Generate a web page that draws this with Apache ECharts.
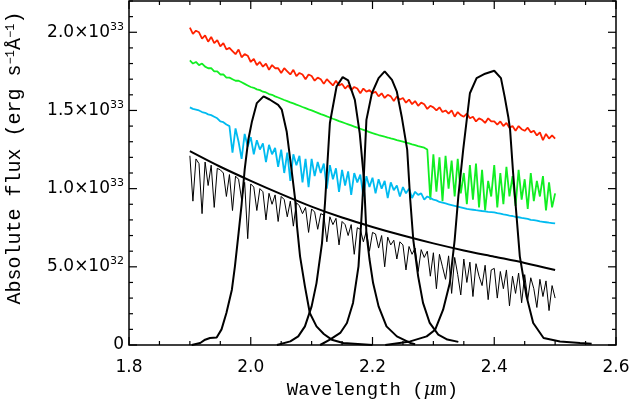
<!DOCTYPE html>
<html>
<head>
<meta charset="utf-8">
<script src="https://cdn.jsdelivr.net/npm/echarts@6/dist/echarts.min.js"></script>
<style>
html,body{margin:0;padding:0;background:#fff;}
#chart{width:631px;height:405px;}
</style>
</head>
<body>
<div id="chart"></div>
<script>
/************************************ 数据 (flux 单位 1e33 erg/s/A) ************************************/
// 光谱采样网格 1.9 - 2.5 um, 步长 0.005
var wave = [];
for (var i = 0; i <= 120; i++) {
	wave.push(+(1.9 + i * 0.005).toFixed(3));
}
var redFlux = [
	2.03,1.99,2.01,2.00,1.96,1.98,1.94,1.97,1.93,1.95,
	1.91,1.93,1.89,1.90,1.88,1.86,1.89,1.84,1.86,1.85,
	1.81,1.83,1.79,1.81,1.78,1.80,1.76,1.79,1.77,1.77,
	1.74,1.77,1.75,1.73,1.76,1.72,1.74,1.73,1.70,1.73,
	1.72,1.69,1.71,1.70,1.67,1.70,1.68,1.66,1.69,1.66,
	1.67,1.64,1.66,1.63,1.65,1.64,1.61,1.64,1.62,1.63,
	1.61,1.62,1.59,1.61,1.58,1.60,1.59,1.56,1.59,1.57,
	1.58,1.55,1.57,1.54,1.56,1.53,1.55,1.54,1.51,1.53,
	1.52,1.50,1.52,1.49,1.50,1.48,1.50,1.46,1.49,1.47,
	1.46,1.48,1.45,1.46,1.43,1.45,1.44,1.42,1.45,1.43,
	1.43,1.41,1.43,1.40,1.42,1.39,1.40,1.37,1.40,1.38,
	1.37,1.39,1.36,1.37,1.34,1.36,1.31,1.35,1.32,1.34,
	1.32
];
var greenFlux = [
	1.82,1.80,1.81,1.79,1.80,1.78,1.77,1.77,1.75,1.75,
	1.73,1.73,1.71,1.71,1.70,1.69,1.69,1.68,1.67,1.66,
	1.65,1.645,1.635,1.63,1.62,1.615,1.605,1.60,1.59,1.583,
	1.575,1.567,1.56,1.552,1.545,1.537,1.53,1.522,1.515,1.507,
	1.50,1.492,1.485,1.477,1.47,1.462,1.455,1.447,1.44,1.432,
	1.425,1.418,1.411,1.404,1.397,1.39,1.383,1.376,1.369,1.362,
	1.355,1.349,1.343,1.338,1.332,1.327,1.321,1.316,1.31,1.305,
	1.30,1.294,1.289,1.283,1.278,1.272,1.267,1.262,
	1.25,0.93,1.22,0.98,1.20,0.92,1.21,1.00,1.18,0.95,
	1.19,0.97,1.10,0.90,1.15,0.93,1.16,0.88,1.12,0.86,
	1.05,0.95,1.15,0.88,1.10,0.90,1.14,0.95,1.08,0.89,
	1.12,0.93,1.06,0.87,1.10,0.92,1.05,0.95,1.08,0.86,
	1.04,0.88,0.97
];
var cyanFlux = [
	1.52,1.51,1.505,1.50,1.49,1.485,1.475,1.47,1.46,1.45,
	1.43,1.425,1.41,1.40,1.23,1.385,1.30,1.19,1.35,1.27,
	1.33,1.22,1.31,1.25,1.29,1.17,1.28,1.22,1.26,1.14,
	1.25,1.10,1.23,1.05,1.22,1.15,1.21,1.04,1.19,1.01,
	1.19,1.08,1.17,1.10,1.16,1.00,1.15,1.06,1.13,0.98,
	1.12,1.02,1.11,0.96,1.10,1.04,1.09,0.95,1.08,1.01,
	1.07,0.97,1.06,1.00,1.05,0.94,1.04,0.99,1.02,0.95,
	1.01,0.97,1.00,0.94,0.98,0.96,0.97,0.93,0.95,0.94,
	0.93,0.925,0.915,0.91,0.905,0.90,0.895,0.89,0.885,0.88,
	0.875,0.87,0.868,0.865,0.862,0.86,0.857,0.855,0.852,0.85,
	0.848,0.843,0.84,0.835,0.832,0.828,0.825,0.82,0.817,0.813,
	0.81,0.806,0.80,0.798,0.795,0.79,0.788,0.785,0.782,0.78,
	0.778
];
var blackFlux = [
	1.21,0.92,1.19,1.16,0.84,1.17,1.02,1.15,0.88,1.13,
	1.12,1.10,0.95,1.09,0.86,1.08,1.06,0.93,1.04,0.68,
	1.03,1.01,0.86,1.00,0.98,0.80,0.97,0.90,0.96,0.79,
	0.95,0.93,0.82,0.92,0.76,0.91,0.89,0.84,0.88,0.72,
	0.87,0.85,0.74,0.84,0.83,0.66,0.82,0.77,0.81,0.64,
	0.79,0.77,0.70,0.77,0.58,0.75,0.74,0.66,0.73,0.60,
	0.72,0.71,0.62,0.70,0.50,0.69,0.64,0.67,0.55,0.66,
	0.64,0.48,0.63,0.58,0.62,0.47,0.61,0.56,0.60,0.44,
	0.59,0.36,0.58,0.50,0.42,0.57,0.33,0.56,0.45,0.32,
	0.55,0.40,0.53,0.31,0.52,0.44,0.38,0.51,0.29,0.48,
	0.49,0.30,0.47,0.36,0.48,0.25,0.44,0.33,0.46,0.27,
	0.45,0.29,0.43,0.36,0.24,0.42,0.31,0.41,0.22,0.38,
	0.30
];
// 连续谱 (黑色平滑线)
var contWave = [1.90,1.95,2.00,2.05,2.10,2.15,2.20,2.25,2.30,2.35,2.40,2.45,2.50];
var contFlux = [1.24,1.14,1.05,0.965,0.885,0.815,0.755,0.70,0.65,0.605,0.565,0.525,0.48];
// 四条滤光片曲线
var f1Wave = [1.903,1.917,1.925,1.933,1.944,1.952,1.96,1.969,1.974,1.98,1.985,1.99,1.996,2.002,2.01,2.021,2.031,2.045,2.051,2.059,2.067,2.073,2.076,2.081,2.089,2.097,2.108,2.12,2.133,2.152,2.2];
var f1Flux = [0.0,0.013,0.034,0.045,0.048,0.10,0.205,0.354,0.503,0.716,0.90,1.121,1.313,1.43,1.547,1.59,1.57,1.536,1.505,1.366,1.121,0.929,0.758,0.567,0.375,0.205,0.119,0.07,0.034,0.013,0.0];
var f2Wave = [2.043,2.065,2.078,2.089,2.1,2.108,2.117,2.122,2.13,2.141,2.151,2.16,2.171,2.179,2.186,2.19,2.195,2.201,2.21,2.223,2.24,2.262,2.27];
var f2Flux = [0.0,0.023,0.055,0.119,0.247,0.396,0.65,0.91,1.42,1.653,1.713,1.692,1.568,1.355,1.057,0.716,0.55,0.396,0.247,0.119,0.055,0.013,0.005];
var f3Wave = [2.114,2.13,2.147,2.158,2.168,2.177,2.182,2.186,2.19,2.199,2.21,2.22,2.232,2.24,2.248,2.257,2.262,2.267,2.275,2.283,2.294,2.308,2.323,2.341];
var f3Flux = [0.0,0.034,0.077,0.141,0.269,0.503,0.822,1.10,1.44,1.61,1.707,1.75,1.696,1.62,1.46,1.249,0.929,0.673,0.439,0.269,0.141,0.066,0.035,0.02];
var f4Wave = [2.221,2.262,2.289,2.303,2.316,2.327,2.335,2.341,2.349,2.36,2.371,2.385,2.4,2.411,2.417,2.423,2.426,2.431,2.434,2.442,2.453,2.464,2.481,2.508,2.541,2.56];
var f4Flux = [0.0,0.023,0.055,0.098,0.226,0.396,0.673,0.95,1.249,1.61,1.707,1.735,1.754,1.707,1.59,1.46,1.377,1.10,0.95,0.567,0.311,0.141,0.045,0.023,0.013,0.008];
// 坐标轴刻度 (主刻度 + 次刻度)
var xTicks = [1.8,1.85,1.9,1.95,2.0,2.05,2.1,2.15,2.2,2.25,2.3,2.35,2.4,2.45,2.5,2.55,2.6];
var yTicks = [0,0.1,0.2,0.3,0.4,0.5,0.6,0.7,0.8,0.9,1.0,1.1,1.2,1.3,1.4,1.5,1.6,1.7,1.8,1.9,2.0,2.1,2.2];
var yTickLabels = {"0": "0", "0.5": "5.0×10{s|32}", "1": "1.0×10{s|33}", "1.5": "1.5×10{s|33}", "2": "2.0×10{s|33}"};

/************************************ 图表 ************************************/
var xRange = [1.8, 2.6, 0.2];
var yRange = [0, 2.2, 0.5];
var tickFont = 'DejaVu Sans';
var titleFont = 'Liberation Mono';

function pairs(xs, ys) {
	var out = [];
	for (var k = 0; k < xs.length; k++) {
		out.push([xs[k], ys[k]]);
	}
	return out;
}
function lineSeries(data, color, width) {
	return {
		type: 'line',
		data: data,
		showSymbol: false,
		symbol: 'none',
		lineStyle: {color: color, width: width},
		silent: true
	};
}
function isMajor(v, step) {
	var r = v / step;
	return Math.abs(r - Math.round(r)) < 1e-6;
}

var chart = echarts.init(document.getElementById('chart'));
var option = {
	animation: false,
	backgroundColor: '#fff',
	grid: {left: 129, right: 15, top: 1, bottom: 60, containLabel: false, outerBoundsMode: 'none',
		show: true, borderColor: '#000', borderWidth: 1.5, backgroundColor: 'transparent'},
	xAxis: {
		type: 'value', min: xRange[0], max: xRange[1], interval: xRange[2], position: 'bottom',
		name: 'Wavelength ({i|μ}m)', nameLocation: 'middle', nameGap: 33,
		nameTextStyle: {fontFamily: titleFont, fontSize: 19, color: '#000',
			rich: {i: {fontFamily: 'DejaVu Serif', fontStyle: 'italic', fontSize: 18, color: '#000'}}},
		axisLine: {show: false, onZero: false},
		axisTick: {show: false},
		axisLabel: {fontFamily: tickFont, fontSize: 17, color: '#000', margin: 14,
			formatter: function(v) { return v.toFixed(1); }},
		splitLine: {show: false}
	},
	yAxis: {
		type: 'value', min: yRange[0], max: yRange[1], interval: yRange[2], position: 'left',
		name: 'Absolute flux (erg s{s|−1}Å{s|−1})', nameLocation: 'middle', nameRotate: 90, nameGap: 104,
		nameTextStyle: {fontFamily: titleFont, fontSize: 20, color: '#000', padding: [0, 0, 0, 30],
			rich: {s: {fontFamily: titleFont, fontSize: 12, color: '#000', verticalAlign: 'top', lineHeight: 12}}},
		axisLine: {show: false, onZero: false},
		axisTick: {show: false},
		axisLabel: {fontFamily: tickFont, fontSize: 17, color: '#000', margin: 5, lineHeight: 22,
			formatter: function(v) { return yTickLabels[String(v)] || ''; },
			rich: {s: {fontFamily: tickFont, fontSize: 11, color: '#000', verticalAlign: 'top', lineHeight: 11}}},
		splitLine: {show: false}
	},
	series: [
		lineSeries(pairs(wave, redFlux), '#ff2200', 1.8),
		lineSeries(pairs(wave, greenFlux), '#11ee22', 1.8),
		lineSeries(pairs(wave, cyanFlux), '#00bbf0', 1.8),
		lineSeries(pairs(wave, blackFlux), '#000', 1),
		lineSeries(pairs(contWave, contFlux), '#000', 2),
		lineSeries(pairs(f1Wave, f1Flux), '#000', 2),
		lineSeries(pairs(f2Wave, f2Flux), '#000', 2),
		lineSeries(pairs(f3Wave, f3Flux), '#000', 2),
		lineSeries(pairs(f4Wave, f4Flux), '#000', 2)
	]
};
// 平滑连续谱
option.series[4].smooth = 0.3;
chart.setOption(option);

/************************************ 四边朝内的刻度 (位置由坐标轴换算) ************************************/
function tickLine(x1, y1, x2, y2) {
	return {
		type: 'line', z: 100, silent: true,
		shape: {x1: x1, y1: y1, x2: x2, y2: y2},
		style: {stroke: '#000', lineWidth: 1.2}
	};
}
var ticks = [];
$each = null;
for (var a = 0; a < xTicks.length; a++) {
	var len = isMajor(xTicks[a], xRange[2]) ? 8 : 4;
	var pb = chart.convertToPixel({gridIndex: 0}, [xTicks[a], yRange[0]]);
	var pt = chart.convertToPixel({gridIndex: 0}, [xTicks[a], yRange[1]]);
	ticks.push(tickLine(pb[0], pb[1], pb[0], pb[1] - len));
	ticks.push(tickLine(pt[0], pt[1], pt[0], pt[1] + len));
}
for (var b = 0; b < yTicks.length; b++) {
	var lenY = isMajor(yTicks[b], yRange[2]) ? 8 : 4;
	var pl = chart.convertToPixel({gridIndex: 0}, [xRange[0], yTicks[b]]);
	var pr = chart.convertToPixel({gridIndex: 0}, [xRange[1], yTicks[b]]);
	ticks.push(tickLine(pl[0], pl[1], pl[0] + lenY, pl[1]));
	ticks.push(tickLine(pr[0], pr[1], pr[0] - lenY, pr[1]));
}
chart.setOption({graphic: {elements: ticks}});
</script>
</body>
</html>
